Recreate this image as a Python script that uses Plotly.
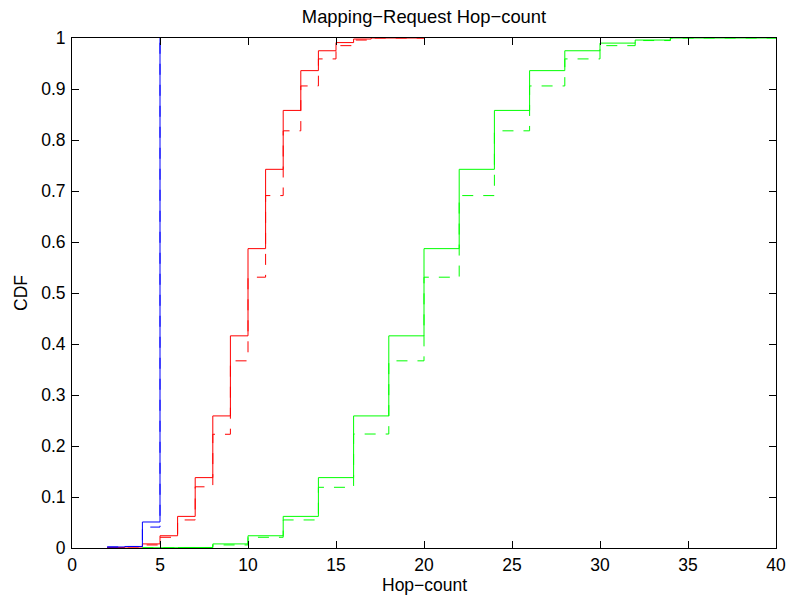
import plotly.graph_objects as go

# Hop-count CDF data (stairs, value holds from x[i] to x[i+1])
red_x = [2, 3, 4, 5, 6, 7, 8, 9, 10, 11, 12, 13, 14, 15, 16, 17, 20]
red_solid = [0.001, 0.002, 0.008, 0.024, 0.062, 0.138, 0.259, 0.416, 0.587, 0.7425,
             0.858, 0.936, 0.975, 0.991, 0.998, 1.0, 1.0]
red_dash = [0.001, 0.002, 0.006, 0.021, 0.055, 0.120, 0.223, 0.367, 0.531, 0.691,
            0.818, 0.906, 0.959, 0.985, 0.996, 1.0, 1.0]

green_x = [4, 6, 8, 10, 12, 14, 16, 18, 20, 22, 24, 26, 28, 30, 32, 34, 40]
green_solid = [0.0005, 0.001, 0.008, 0.024, 0.062, 0.138, 0.259, 0.416, 0.587, 0.7425,
               0.858, 0.936, 0.975, 0.990, 0.996, 1.0, 1.0]
green_dash = [0.0005, 0.001, 0.006, 0.021, 0.055, 0.119, 0.2235, 0.367, 0.531, 0.691,
              0.818, 0.906, 0.959, 0.985, 0.995, 1.0, 1.0]

blue_x = [2, 3, 4, 5]
blue_solid = [0.002, 0.003, 0.051, 1.0]
blue_dash = [0.002, 0.003, 0.041, 1.0]

x_ticks = [0, 5, 10, 15, 20, 25, 30, 35, 40]
y_ticks = [0, 0.1, 0.2, 0.3, 0.4, 0.5, 0.6, 0.7, 0.8, 0.9, 1]
y_tick_text = ["0", "0.1", "0.2", "0.3", "0.4", "0.5", "0.6", "0.7", "0.8", "0.9", "1"]

DASH = "11px,10px"
series = [
    (red_x, red_solid, "#ff0000", "solid"),
    (red_x, red_dash, "#ff0000", DASH),
    (green_x, green_solid, "#00ff00", "solid"),
    (green_x, green_dash, "#00ff00", DASH),
    (blue_x, blue_solid, "#0000ff", "solid"),
    (blue_x, blue_dash, "#0000ff", DASH),
]

fig = go.Figure()
for xs, ys, col, dash in series:
    fig.add_trace(go.Scatter(x=xs, y=ys, mode="lines", line_shape="hv",
                             line=dict(color=col, width=1, dash=dash),
                             showlegend=False, hoverinfo="skip", cliponaxis=True))

FONT = "Liberation Sans, Arial, Helvetica, sans-serif"
axis_common = dict(showgrid=False, zeroline=False, showline=True, linecolor="black",
                   linewidth=1, mirror="ticks", ticks="inside", ticklen=7,
                   tickcolor="black", tickwidth=1, automargin=False,
                   ticklabeloverflow="allow",
                   tickfont=dict(family=FONT, size=17.5, color="black"))

L, R, T, B = 72, 776, 38, 548
W, H = 786, 596

fig.update_layout(
    width=W, height=H,
    margin=dict(l=L, r=W - R, t=T, b=H - B),
    paper_bgcolor="white", plot_bgcolor="white",
    title=dict(text="Mapping\u2212Request Hop\u2212count", x=0.5 * (L + R) / W,
               xanchor="center", y=1 - 17 / H, yanchor="middle", yref="container",
               font=dict(family=FONT, size=18.4, color="black")),
    xaxis=dict(range=[0, 40.0001], tickvals=x_ticks, ticktext=[str(v) for v in x_ticks],
               ticklabelstandoff=1, **axis_common),
    yaxis=dict(range=[0, 1], tickvals=y_ticks, ticktext=y_tick_text,
               ticklabelstandoff=2, **axis_common),
    annotations=[
        dict(text="Hop\u2212count", xref="paper", yref="paper", x=0.5, y=-(585 - B) / (B - T),
             xanchor="center", yanchor="middle", showarrow=False, borderpad=0,
             font=dict(family=FONT, size=17.5, color="black")),
        dict(text="CDF", xref="paper", yref="paper", x=-(L - 21) / (R - L), y=0.5,
             xanchor="center", yanchor="middle", showarrow=False, textangle=-90, borderpad=0,
             font=dict(family=FONT, size=17.5, color="black")),
    ],
)

fig.write_html("out.html")
